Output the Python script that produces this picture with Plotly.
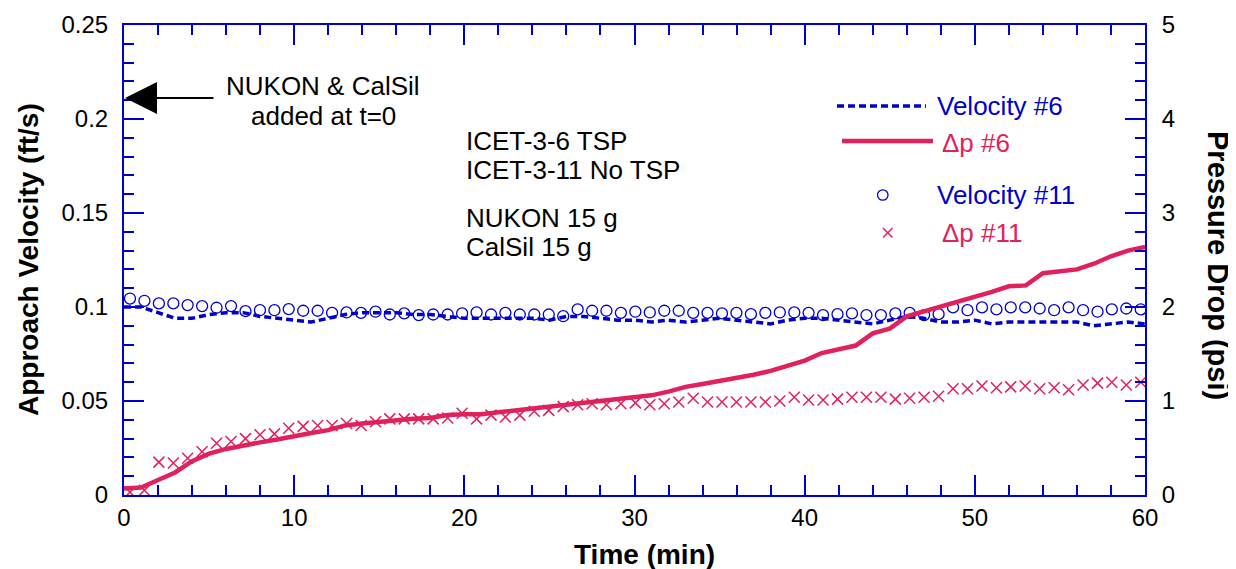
import plotly.graph_objects as go

# ---------------- data ----------------
# ICET-3-6 (TSP): continuous records, read every minute
time_6 = [0, 1, 2, 3, 4, 5, 6, 7, 8, 9, 10, 11, 12, 13, 14, 15, 16, 17, 18, 19, 20,
          21, 22, 23, 24, 25, 26, 27, 28, 29, 30, 31, 32, 33, 34, 35, 36, 37, 38, 39, 40,
          41, 42, 43, 44, 45, 46, 47, 48, 49, 50, 51, 52, 53, 54, 55, 56, 57, 58, 59, 60]
velocity_6 = [0.100, 0.100, 0.097, 0.094, 0.094, 0.096, 0.097, 0.097, 0.095, 0.094, 0.093,
              0.092, 0.094, 0.096, 0.097, 0.097, 0.097, 0.096, 0.096, 0.095, 0.094,
              0.094, 0.094, 0.094, 0.094, 0.093, 0.095, 0.095, 0.094, 0.093, 0.093,
              0.092, 0.093, 0.092, 0.093, 0.094, 0.093, 0.092, 0.091, 0.093, 0.094,
              0.094, 0.093, 0.092, 0.091, 0.093, 0.095, 0.094, 0.092, 0.092, 0.093,
              0.091, 0.092, 0.092, 0.092, 0.092, 0.092, 0.090, 0.091, 0.092, 0.091]
dp_6 = [0.07, 0.08, 0.16, 0.24, 0.36, 0.44, 0.49, 0.53, 0.56, 0.59, 0.63,
        0.66, 0.69, 0.74, 0.76, 0.78, 0.80, 0.81, 0.82, 0.85, 0.86,
        0.86, 0.88, 0.90, 0.91, 0.93, 0.95, 0.98, 1.00, 1.02, 1.03,
        1.06, 1.10, 1.15, 1.18, 1.21, 1.24, 1.28, 1.32, 1.38, 1.43,
        1.51, 1.55, 1.59, 1.72, 1.77, 1.90, 1.95, 2.01, 2.06, 2.10,
        2.16, 2.22, 2.23, 2.36, 2.38, 2.40, 2.46, 2.54, 2.60, 2.64]

# ICET-3-11 (No TSP): sampled points
time_11 = [0.35, 1.20, 2.05, 2.90, 3.74, 4.59, 5.44, 6.29, 7.14, 7.99, 8.84, 9.68,
           10.53, 11.38, 12.23, 13.08, 13.93, 14.78, 15.62, 16.47, 17.32, 18.17, 19.02,
           19.87, 20.72, 21.57, 22.41, 23.26, 24.11, 24.96, 25.81, 26.66, 27.51, 28.35,
           29.20, 30.05, 30.90, 31.75, 32.60, 33.45, 34.29, 35.14, 35.99, 36.84, 37.69,
           38.54, 39.39, 40.23, 41.08, 41.93, 42.78, 43.63, 44.48, 45.33, 46.17, 47.02,
           47.87, 48.72, 49.57, 50.42, 51.27, 52.11, 52.96, 53.81, 54.66, 55.51, 56.36,
           57.21, 58.05, 58.90, 59.75]
velocity_11 = [0.1045, 0.1033, 0.1019, 0.1019, 0.1010, 0.1005, 0.0996, 0.1005, 0.0978,
               0.0983, 0.0983, 0.0989, 0.0980, 0.0980, 0.0969, 0.0971, 0.0969, 0.0975,
               0.0960, 0.0966, 0.0957, 0.0960, 0.0960, 0.0966, 0.0971, 0.0960,
               0.0969, 0.0960, 0.0960, 0.0960, 0.0951, 0.0987, 0.0980, 0.0980, 0.0969,
               0.0975, 0.0971, 0.0980, 0.0980, 0.0969, 0.0969, 0.0966, 0.0969, 0.0962,
               0.0969, 0.0971, 0.0971, 0.0969, 0.0957, 0.0962, 0.0966, 0.0957,
               0.0957, 0.0966, 0.0969, 0.0957, 0.0962, 0.0998, 0.0983, 0.0998, 0.0987,
               0.0998, 0.0998, 0.0992, 0.0983, 0.0998, 0.0983, 0.0975, 0.0987, 0.0992,
               0.0987]
dp_11 = [0.03, 0.05, 0.35, 0.34, 0.39, 0.46, 0.55, 0.57, 0.60, 0.64, 0.65, 0.71, 0.73,
         0.74, 0.74, 0.76, 0.74, 0.78, 0.81, 0.81, 0.81, 0.81, 0.82, 0.87, 0.81, 0.85,
         0.83, 0.85, 0.89, 0.90, 0.94, 0.96, 0.97, 0.96, 0.97, 0.98, 0.96, 0.97, 0.99,
         1.03, 0.99, 0.99, 0.99, 0.99, 0.99, 1.00, 1.04, 1.01, 1.01, 1.02, 1.04, 1.04,
         1.04, 1.02, 1.03, 1.04, 1.05, 1.13, 1.13, 1.16, 1.14, 1.15, 1.16, 1.13, 1.14,
         1.12, 1.17, 1.19, 1.20, 1.17, 1.20]

x_ticks = [0, 10, 20, 30, 40, 50, 60]
x_ticktext = ["0", "10", "20", "30", "40", "50", "60"]
vel_ticks = [0, 0.05, 0.1, 0.15, 0.2, 0.25]
vel_ticktext = ["0", "0.05", "0.1", "0.15", "0.2", "0.25"]
dp_ticks = [0, 1, 2, 3, 4, 5]
dp_ticktext = ["0", "1", "2", "3", "4", "5"]

# ---------------- style ----------------
BLUE = "#0000cc"
RED = "#e0215c"
FONT = "Liberation Sans, Arial, sans-serif"
W, H = 1236, 569
OFF = 8                      # default page body margin
PX0, PX1, PY0, PY1 = 124, 1145, 25, 495   # plot area on screen
PW, PH = PX1 - PX0, PY1 - PY0
L, T = PX0 - OFF, PY0 - OFF
R, B = W - L - PW, H - T - PH


def px_x(px):
    return (px - PX0) / PW


def px_y(py):
    return (PY1 - py) / PH


def dx(px):  # screen pixel -> minutes
    return (px - PX0) / PW * 60


def dy(py):  # screen pixel -> ft/s
    return (PY1 - py) / PH * 0.25


fig = go.Figure()
fig.add_trace(go.Scatter(x=time_6, y=velocity_6, mode="lines", name="Velocity #6",
                         line=dict(color=BLUE, width=3.5, dash="7px,4px"),
                         yaxis="y", showlegend=False))
fig.add_trace(go.Scatter(x=time_6, y=dp_6, mode="lines", name="Δp #6",
                         line=dict(color=RED, width=4.5),
                         yaxis="y2", showlegend=False))
fig.add_trace(go.Scatter(x=time_11, y=velocity_11, mode="markers", name="Velocity #11",
                         marker=dict(symbol="circle-open", size=11, color=BLUE,
                                     line=dict(width=1.3, color=BLUE)),
                         yaxis="y", showlegend=False))
fig.add_trace(go.Scatter(x=time_11, y=dp_11, mode="markers", name="Δp #11",
                         marker=dict(symbol="x-thin-open", size=11, color=RED,
                                     line=dict(width=1.5, color=RED)),
                         yaxis="y2", showlegend=False))

axis_common = dict(showline=True, linecolor=BLUE, linewidth=2, ticks="inside",
                   ticklen=20, tickwidth=2, tickcolor=BLUE, showgrid=False, zeroline=False,
                   tickfont=dict(family=FONT, size=24, color="black"))

fig.update_layout(
    width=W, height=H,
    margin=dict(l=L, r=R, t=T, b=B, autoexpand=False),
    plot_bgcolor="white", paper_bgcolor="white",
    xaxis=dict(range=[0, 60], tickvals=x_ticks, ticktext=x_ticktext, mirror="ticks",
               minor=dict(dtick=2, ticklen=10, tickwidth=2, tickcolor=BLUE, ticks="inside"),
               ticklabelstandoff=0, **axis_common),
    yaxis=dict(range=[0, 0.25], tickvals=vel_ticks, ticktext=vel_ticktext,
               minor=dict(dtick=0.01, ticklen=10, tickwidth=2, tickcolor=BLUE, ticks="inside"),
               ticklabelstandoff=9, **axis_common),
    yaxis2=dict(range=[0, 5], tickvals=dp_ticks, ticktext=dp_ticktext, overlaying="y",
                side="right", anchor="x",
                minor=dict(dtick=0.2, ticklen=10, tickwidth=2, tickcolor=BLUE, ticks="inside"),
                ticklabelstandoff=10, **axis_common),
)

annotations = []
# axis titles
annotations.append(dict(text="<b>Approach Velocity (ft/s)</b>", xref="paper", yref="paper",
                        x=px_x(28), y=px_y(260), textangle=-90, showarrow=False,
                        xanchor="center", yanchor="middle",
                        font=dict(family=FONT, size=28, color="black")))
annotations.append(dict(text="<b>Time (min)</b>", xref="paper", yref="paper",
                        x=px_x(644), y=px_y(554), showarrow=False,
                        xanchor="center", yanchor="middle",
                        font=dict(family=FONT, size=28, color="black")))
annotations.append(dict(text="<b>Pressure Drop (psi)</b>", xref="paper", yref="paper",
                        x=px_x(1218), y=px_y(265), textangle=90, showarrow=False,
                        xanchor="center", yanchor="middle",
                        font=dict(family=FONT, size=29, color="black")))

# arrow & notes
annotations.append(dict(x=dx(125), y=dy(98), ax=dx(215), ay=dy(98), xref="x", yref="y",
                        axref="x", ayref="y", text="", showarrow=True, arrowhead=2,
                        arrowsize=3.2, arrowwidth=2, arrowcolor="black"))
for txt, py in [("NUKON &amp; CalSil", 86), ("added at t=0", 116)]:
    annotations.append(dict(text=txt, x=dx(323), y=dy(py), xref="x", yref="y",
                            showarrow=False, xanchor="center", yanchor="middle",
                            font=dict(family=FONT, size=26, color="black")))
for txt, py in [("ICET-3-6 TSP", 141), ("ICET-3-11 No TSP", 170),
                ("NUKON 15 g", 218), ("CalSil 15 g", 247)]:
    annotations.append(dict(text=txt, x=dx(464), y=dy(py), xref="x", yref="y",
                            showarrow=False, xanchor="left", yanchor="middle",
                            font=dict(family=FONT, size=26, color="black")))

# custom legend text
for txt, col, px, py in [("Velocity #6", BLUE, 935, 106), ("Δp #6", RED, 940, 143),
                         ("Velocity #11", BLUE, 935, 195), ("Δp #11", RED, 940, 233)]:
    annotations.append(dict(text=txt, x=dx(px), y=dy(py), xref="x", yref="y",
                            showarrow=False, xanchor="left", yanchor="middle",
                            font=dict(family=FONT, size=26, color=col)))

shapes = [
    dict(type="line", xref="x", yref="y", x0=dx(837), x1=dx(926), y0=dy(106), y1=dy(106),
         line=dict(color=BLUE, width=3.5, dash="7px,4px")),
    dict(type="line", xref="x", yref="y", x0=dx(842), x1=dx(933), y0=dy(141), y1=dy(141),
         line=dict(color=RED, width=4.5)),
    dict(type="circle", xref="x", yref="y", x0=dx(877.5), x1=dx(888), y0=dy(189.8),
         y1=dy(200.2), line=dict(color=BLUE, width=1.3)),
    dict(type="line", xref="x", yref="y", x0=dx(883), x1=dx(892.5), y0=dy(228), y1=dy(237.5),
         line=dict(color=RED, width=1.5)),
    dict(type="line", xref="x", yref="y", x0=dx(883), x1=dx(892.5), y0=dy(237.5), y1=dy(228),
         line=dict(color=RED, width=1.5)),
]

fig.update_layout(annotations=annotations, shapes=shapes)
fig.write_html("out.html")
